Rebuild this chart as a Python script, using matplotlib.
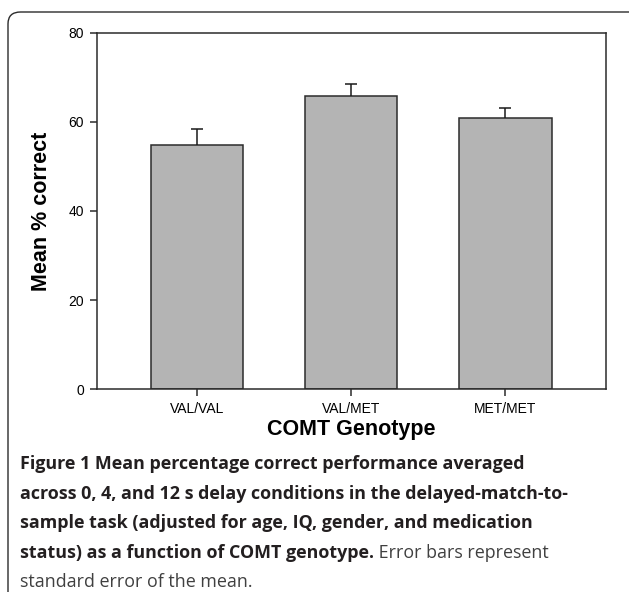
import matplotlib
matplotlib.use("Agg")
import matplotlib.pyplot as plt
from matplotlib.patches import FancyBboxPatch

# data
genotypes = ["VAL/VAL", "VAL/MET", "MET/MET"]
mean_correct = [54.9, 65.7, 60.8]
sem = [3.6, 2.8, 2.3]
y_ticks = [0, 20, 40, 60, 80]

caption_bold = [
    "Figure 1 Mean percentage correct performance averaged",
    "across 0, 4, and 12 s delay conditions in the delayed-match-to-",
    "sample task (adjusted for age, IQ, gender, and medication",
    "status) as a function of COMT genotype.",
]
caption_rest = [" Error bars represent", "standard error of the mean."]

W, H = 629, 592
fig = plt.figure(figsize=(W / 100, H / 100), dpi=100)

# axes placed in pixel units of the reference
x0, x1, y0, y1 = 96.7, 605.7, 32.7, 389.3
ax = fig.add_axes([x0 / W, 1 - y1 / H, (x1 - x0) / W, (y1 - y0) / H])

xs = list(range(len(genotypes)))
tops = [m + e for m, e in zip(mean_correct, sem)]
ax.bar(xs, mean_correct, width=0.6, color="#b4b4b4", edgecolor="#2b2b2b",
       linewidth=1.1, zorder=2)
# upper half of the error bar only: stem plus a cap at the top
ax.vlines(xs, mean_correct, tops, color="#1a1a1a", linewidth=1.1, zorder=3)
ax.plot(xs, tops, ls="none", marker="_", markersize=8, markeredgewidth=1.1,
        color="#1a1a1a", zorder=3)

ax.set_xlim(-0.65, 2.65)
ax.set_ylim(0, 80)
ax.set_yticks(y_ticks)
ax.set_xticks(xs)
ax.set_xticklabels(genotypes)
for s in ax.spines.values():
    s.set_color("#2b2b2b")
    s.set_linewidth(1.1)
ax.tick_params(direction="out", length=5, width=1.1, color="#2b2b2b",
               labelsize=10, pad=4)
for lab in ax.get_xticklabels() + ax.get_yticklabels():
    lab.set_family("Liberation Sans")

ax.set_ylabel("Mean % correct", family="Liberation Sans", fontweight="bold",
              fontsize=15.5, labelpad=12)
ax.set_xlabel("COMT Genotype", family="Liberation Sans", fontweight="bold",
              fontsize=15.5, labelpad=2)

# outer rounded frame (bottom/right run off the image)
frame = FancyBboxPatch((8 / W, -0.02), 640 / W, 1 - 12 / H + 0.02,
                       boxstyle="round,pad=0,rounding_size=0.02",
                       transform=fig.transFigure, fill=False,
                       edgecolor="#2b2b2b", linewidth=1.0)
fig.patches.append(frame)

# caption
cap_kw = dict(family="Open Sans", fontsize=12.9, va="baseline", ha="left")
line_y = [469, 499, 528, 558, 587]
last = None
for i, txt in enumerate(caption_bold):
    last = fig.text(20 / W, 1 - line_y[i] / H, txt, fontweight="bold",
                    color="#231f20", **cap_kw)
fig.canvas.draw()
ann = fig.text(0, 0, caption_rest[0], color="#404040", **cap_kw)
bb = last.get_window_extent()
ann.set_position((bb.x1 / W, 1 - line_y[3] / H))
fig.text(20 / W, 1 - line_y[4] / H, caption_rest[1], color="#404040", **cap_kw)

fig.savefig("out.png", dpi=100)
